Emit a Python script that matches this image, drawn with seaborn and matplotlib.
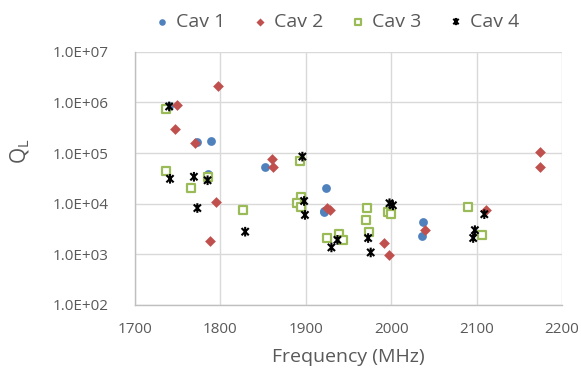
import numpy as np
import pandas as pd
import matplotlib
matplotlib.use("Agg")
import matplotlib.pyplot as plt
import seaborn as sns
from matplotlib.path import Path
from matplotlib.ticker import FuncFormatter, MultipleLocator

# ---- data ----
cav1_f = [1740, 1773, 1789, 1786, 1852, 1924, 1921, 1921, 2037, 2036]
cav1_q = [8.4e5, 1.64e5, 1.74e5, 3.8e4, 5.2e4, 2.0e4, 7.2e3, 6.7e3, 4.3e3, 2.3e3]

cav2_f = [1797, 1749, 1747, 1770, 1860, 1862, 1795, 1788, 1925, 1928, 1992, 1997, 2039, 2111, 2174, 2174]
cav2_q = [2.07e6, 8.9e5, 3.0e5, 1.55e5, 7.7e4, 5.4e4, 1.08e4, 1.85e3, 8.3e3, 7.4e3, 1.64e3, 9.6e2, 3.0e3, 7.5e3, 1.03e5, 5.4e4]

cav3_f = [1736, 1736, 1766, 1786, 1826, 1893, 1894, 1890, 1894, 1925, 1939, 1943, 1972, 1970, 1974, 1996, 2000, 2090, 2106]
cav3_q = [7.4e5, 4.4e4, 2.0e4, 3.3e4, 7.5e3, 6.9e4, 1.38e4, 1.05e4, 8.5e3, 2.1e3, 2.5e3, 1.9e3, 8.1e3, 4.7e3, 2.8e3, 6.9e3, 6.2e3, 8.7e3, 2.4e3]

cav4_f = [1740, 1741, 1769, 1785, 1773, 1829, 1896, 1898, 1899, 1930, 1937, 1973, 1976, 1998, 2002, 2109, 2098, 2096]
cav4_q = [8.3e5, 3.1e4, 3.4e4, 2.9e4, 8.2e3, 2.8e3, 8.5e4, 1.13e4, 6.0e3, 1.37e3, 1.93e3, 2.1e3, 1.09e3, 1.02e4, 9.3e3, 6.2e3, 3.0e3, 2.1e3]

series_names = ["Cav 1", "Cav 2", "Cav 3", "Cav 4"]
x_ticks = [1700, 1800, 1900, 2000, 2100, 2200]
y_ticks = [1e2, 1e3, 1e4, 1e5, 1e6, 1e7]

# ---- style ----
sns.set_theme(style="white")
plt.rcParams['font.family'] = ['Open Sans', 'DejaVu Sans']
txt = "#595959"
grid_c = "#D9D9D9"

fig = plt.figure(figsize=(5.81, 3.80), dpi=100)
ax = fig.add_axes([135/581, 1-305/380, 427/581, 253.3/380])

star = Path([(0, -1), (0, 1), (-0.75, -0.75), (0.75, 0.75), (-0.75, 0.75), (0.75, -0.75)],
            [Path.MOVETO, Path.LINETO, Path.MOVETO, Path.LINETO, Path.MOVETO, Path.LINETO])

d1 = pd.DataFrame({"f": cav1_f, "q": cav1_q})
d2 = pd.DataFrame({"f": cav2_f, "q": cav2_q})
d3 = pd.DataFrame({"f": cav3_f, "q": cav3_q})
d4 = pd.DataFrame({"f": cav4_f, "q": cav4_q})

sns.scatterplot(data=d1, x="f", y="q", ax=ax, marker="o", s=40, color="#4F81BD",
                edgecolor="#4F81BD", linewidth=0, label=series_names[0], zorder=3)
sns.scatterplot(data=d2, x="f", y="q", ax=ax, marker="D", s=30, color="#C0504D",
                edgecolor="#C0504D", linewidth=0, label=series_names[1], zorder=3)
sns.scatterplot(data=d3, x="f", y="q", ax=ax, marker="s", s=26, facecolor="white",
                edgecolor="#9BBB59", linewidth=1.6, label=series_names[2], zorder=3)
sns.scatterplot(data=d4, x="f", y="q", ax=ax, marker=star, s=48, facecolor="none",
                edgecolor="black", linewidth=1.5, label=series_names[3], zorder=4)

ax.set_yscale("log")
ax.set_xlim(1700, 2200)
ax.set_ylim(1e2, 1e7)
ax.set_xticks(x_ticks)
ax.set_yticks(y_ticks)
ax.yaxis.set_minor_locator(plt.NullLocator())
ax.xaxis.set_minor_locator(MultipleLocator(20))
ax.yaxis.set_major_formatter(FuncFormatter(lambda v, p: f"{v:.1E}"))
ax.xaxis.set_major_formatter(FuncFormatter(lambda v, p: f"{int(v)}"))

ax.grid(True, which="major", color=grid_c, linewidth=1.0)
ax.set_axisbelow(True)
for s in ["top", "right"]:
    ax.spines[s].set_visible(False)
for s in ["left", "bottom"]:
    ax.spines[s].set_color("#BFBFBF")
    ax.spines[s].set_linewidth(1.0)

ax.tick_params(axis="y", which="both", length=0, pad=19, labelsize=11, labelcolor=txt)
ax.tick_params(axis="x", which="major", length=5, direction="inout", color="#BFBFBF",
               pad=10, labelsize=11, labelcolor=txt)
ax.tick_params(axis="x", which="minor", length=4, direction="inout", color="#BFBFBF")

ax.set_xlabel("Frequency (MHz)", fontsize=14, color=txt)
ax.xaxis.set_label_coords(0.5, (305-357)/253)
ax.xaxis.label.set_va("center")
ax.set_ylabel(r"Q$_\mathregular{L}$", fontsize=15, color=txt)
ax.yaxis.set_label_coords((20-135)/427, (305-151)/253)
ax.yaxis.label.set_va("center")

leg = ax.legend(ncol=4, loc="center", bbox_to_anchor=(0.47, (305-22)/253),
                frameon=False, fontsize=14, handletextpad=0.2, columnspacing=1.3,
                markerscale=0.75, handlelength=1.0)
for t in leg.get_texts():
    t.set_color(txt)

fig.savefig("out.png", dpi=100)
